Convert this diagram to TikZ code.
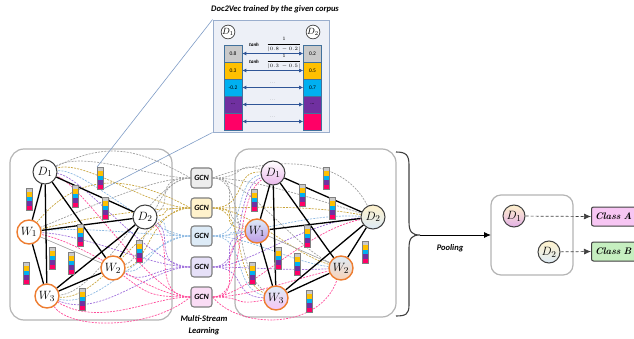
\documentclass[tikz,border=0pt]{standalone}
\usepackage{fontspec}
\newfontfamily\carlito{Carlito}
\usetikzlibrary{arrows.meta,calc}
\newcommand\celldots{...}

\definecolor{cellgray}{HTML}{C9C9C9}
\definecolor{cellyel}{HTML}{FFC000}
\definecolor{cellcyan}{HTML}{00B0F0}
\definecolor{cellpur}{HTML}{7030A0}
\definecolor{cellmag}{HTML}{FF0066}
\definecolor{cellborder}{HTML}{41719C}
\definecolor{arrowblue}{HTML}{2F5597}
\definecolor{insetfill}{HTML}{EDF0F7}
\definecolor{insetdraw}{HTML}{9AAECD}
\definecolor{boxgray}{HTML}{B4B4B4}
\definecolor{nodedark}{HTML}{404040}
\definecolor{worange}{HTML}{ED7D31}
\definecolor{gcnborder}{HTML}{7F7F7F}
\definecolor{gcnA}{HTML}{EDEDED}
\definecolor{gcnB}{HTML}{FFF2CC}
\definecolor{gcnC}{HTML}{DDEBF7}
\definecolor{gcnD}{HTML}{E6E0F8}
\definecolor{gcnE}{HTML}{FADCF5}
\definecolor{sgray}{HTML}{A0A0A0}
\definecolor{sgold}{HTML}{C8A43C}
\definecolor{sblue}{HTML}{8DB9E2}
\definecolor{spur}{HTML}{A070DC}
\definecolor{spink}{HTML}{FF4C9A}
\definecolor{classA}{HTML}{F7C6F3}
\definecolor{classB}{HTML}{C6EFC0}
\definecolor{linkblue}{HTML}{7F9CC6}

\pgfdeclarelayer{boxes}
\pgfdeclarelayer{links}
\pgfsetlayers{boxes,links,main}

\tikzset{
  gnode/.style={circle, minimum size=24pt, inner sep=0pt, font=\fontsize{13}{13}\selectfont},
  dnode/.style={gnode, draw=nodedark, line width=1pt, fill=white},
  wnode/.style={gnode, draw=worange, line width=1.4pt, fill=white},
  edge/.style={line width=1.3pt, black},
  thinedge/.style={line width=0.6pt, sgray},
  strand/.style={dash pattern=on 2pt off 1.2pt, line width=0.7pt},
  gcn/.style={draw=gcnborder, line width=1.1pt, rounded corners=3pt, minimum width=21pt,
    minimum height=20pt, inner sep=0pt, font=\carlito\bfseries\itshape\fontsize{8}{8}\selectfont},
  cell/.style={draw=cellborder, line width=0.6pt, minimum width=18pt, minimum height=17pt,
    inner sep=0pt, font=\carlito\fontsize{5.5}{5.5}\selectfont},
  graphbox/.style={draw=boxgray, line width=1.2pt, rounded corners=14pt},
  pairarrow/.style={{Latex[length=4pt,width=4pt]}-{Latex[length=4pt,width=4pt]}, arrowblue, line width=0.7pt},
  smalllabel/.style={inner sep=0pt, font=\carlito\bfseries\itshape\fontsize{5}{5}\selectfont},
  classbox/.style={draw=nodedark, line width=1pt, rounded corners=2pt, anchor=west,
    minimum height=19pt, text width=44pt, inner xsep=3.5pt, align=left,
    font=\bfseries\itshape\fontsize{9.5}{9.5}\selectfont},
  caption/.style={font=\carlito\bfseries\itshape\fontsize{8.5}{12}\selectfont, align=center},
  vecbar/.pic={
    \fill[cellgray] (0,0) rectangle (6,4.4);
    \fill[cellyel] (0,4.4) rectangle (6,8.8);
    \fill[cellcyan] (0,8.8) rectangle (6,13.2);
    \fill[cellpur] (0,13.2) rectangle (6,17.6);
    \fill[cellmag] (0,17.6) rectangle (6,22);
    \draw[gray, line width=0.4pt] (0,0) rectangle (6,22);
  }
}

\begin{document}
\begin{tikzpicture}[x=1pt, y=-1pt]
\useasboundingbox (0,0) rectangle (634,339);

% ---------- Doc2Vec inset ----------
\node[caption] (title) at (275,9) {Doc2Vec trained by the given corpus};
\node[draw=insetdraw, line width=0.9pt, fill=insetfill, minimum width=116pt, minimum height=112pt,
      inner sep=0pt] (inset) at (271,76) {};
\node[draw=nodedark, circle, fill=white, line width=0.7pt, minimum size=13pt, inner sep=0pt,
      font=\fontsize{9}{9}\selectfont] (iD1) at (228,32) {$D_1$};
\node[draw=nodedark, circle, fill=white, line width=0.7pt, minimum size=13pt, inner sep=0pt,
      font=\fontsize{9}{9}\selectfont] (iD2) at (313,32) {$D_2$};

\foreach \k/\fc/\lt/\rt [count=\i] in {1/cellgray/0.8/0.2, 2/cellyel/0.3/0.5, 3/cellcyan/-0.2/0.7,
                                      4/cellpur/\celldots/\celldots, 5/cellmag/{}/{}} {
  \node[cell, fill=\fc] (lc\k) at (233,{36.5+17*\i}) {\lt};
  \node[cell, fill=\fc] (rc\k) at (312.5,{36.5+17*\i}) {\rt};
  \draw[pairarrow] (lc\k.east) -- (rc\k.west);
}
\node[smalllabel] (tanh1) at (254,45) {tanh};
\node[inner sep=0pt, font=\fontsize{5.5}{5.5}\selectfont] (frac1) at (284,44.5)
  {$\displaystyle\frac{1}{|0.8\,-0.2|}$};
\node[smalllabel] (tanh2) at (254,62) {tanh};
\node[inner sep=0pt, font=\fontsize{5.5}{5.5}\selectfont] (frac2) at (284,61.5)
  {$\displaystyle\frac{1}{|0.3\,-0.5|}$};
\foreach \k in {3,4,5}
  \node[inner sep=0pt, gray, font=\fontsize{5}{5}\selectfont] (dots\k) at ($(lc\k.east)!0.5!(rc\k.west)+(0,-4)$) {\celldots};

% ---------- graph frames ----------
\begin{pgfonlayer}{boxes}
  \draw[graphbox] (10,149) rectangle (172,320);
  \draw[graphbox] (235,149) rectangle (396,317);
  \draw[graphbox, rounded corners=10pt] (491,195) rectangle (573,275);
\end{pgfonlayer}

% ---------- left graph nodes ----------
\node[dnode] (lD1) at (45,172) {$D_1$};
\node[dnode] (lD2) at (145,217) {$D_2$};
\node[wnode] (lW1) at (29,232) {$W_1$};
\node[wnode] (lW2) at (113,268) {$W_2$};
\node[wnode] (lW3) at (47,296) {$W_3$};

% ---------- right graph nodes ----------
\node[gnode, draw=nodedark, line width=1pt, top color=white, bottom color=classA!90!cellpur] (rD1) at (273,173) {$D_1$};
\node[gnode, draw=nodedark, line width=1pt, top color=gcnB, bottom color=gcnC] (rD2) at (373,217) {$D_2$};
\node[gnode, draw=worange, line width=1.4pt, top color=gcnC, bottom color=spur!70] (rW1) at (257,231) {$W_1$};
\node[gnode, draw=worange, line width=1.4pt, top color=gcnC, bottom color=worange!35] (rW2) at (341,268) {$W_2$};
\node[gnode, draw=worange, line width=1.4pt, top color=gcnC, bottom color=classA] (rW3) at (276,298) {$W_3$};

% ---------- GCN streams ----------
\node[gcn, fill=gcnA] (g1) at (201.5,178) {GCN};
\node[gcn, fill=gcnB] (g2) at (201.5,208) {GCN};
\node[gcn, fill=gcnC] (g3) at (201.5,236) {GCN};
\node[gcn, fill=gcnD] (g4) at (201.5,267) {GCN};
\node[gcn, fill=gcnE] (g5) at (201.5,297) {GCN};
\node[caption] (msl) at (204,325) {Multi-Stream\\Learning};

\begin{pgfonlayer}{links}
  \foreach \g/\c [count=\k] in {g1/sgray, g2/sgold, g3/sblue, g4/spur, g5/spink} {
    \foreach \n/\cx/\cy in {lD1/40/-4, lD2/30/6, lW1/60/-6, lW2/35/8, lW3/55/14}
      \draw[strand, \c] (\g.west) .. controls +(-40,0) and +(\cx,{\cy+(\k-3)*9}) .. (\n);
    \foreach \n/\cx/\cy in {rD1/-40/6, rD2/-70/-4, rW1/-45/2, rW2/-50/-6, rW3/-45/-10}
      \draw[strand, \c] (\g.east) .. controls +(35,0) and +(\cx,{\cy+(\k-3)*9}) .. (\n);
  }
  % extra arcs running round the frames
  \draw[strand, sgray] (g1.west) .. controls (140,150) and (110,140) .. (lD1);
  \draw[strand, spink] (g5.west) .. controls (150,330) and (70,330) .. (lW3);
  \draw[strand, sgold] (g2.west) .. controls (130,175) and (80,170) .. (lW1);
  \draw[strand, spink] (g5.east) .. controls (240,330) and (320,330) .. (rW2);
  \draw[strand, sgray] (g1.east) .. controls (260,160) and (340,150) .. (rD2);

  % graph edges
  \foreach \p in {l, r} {
    \draw[thinedge] (\p W1) -- (\p W2);
    \foreach \a/\b in {D1/D2, D1/W1, D1/W2, D1/W3, D2/W1, D2/W2, D2/W3, W1/W3, W2/W3}
      \draw[edge] (\p\a) -- (\p\b);
  }
\end{pgfonlayer}

% ---------- embedding bars ----------
\foreach \x/\y in {26/188, 97/167, 72/185, 102/197, 77/224, 49/247, 68/252, 23/262, 136/240, 79/288,
                   323/167, 299/184, 251/189, 329/197, 304/225, 275/247, 294/253, 362/241, 249/262, 306/290}
  \pic at (\x,\y) {vecbar};

\coordinate (barTop) at (97,167);
\coordinate (barBot) at (103,189);
\draw[linkblue, line width=0.6pt] (inset.north west) -- (barTop);
\draw[linkblue, line width=0.6pt] (inset.south west) -- (barBot);

% ---------- brace and pooling ----------
\coordinate (brTip) at (420,235);
\draw[nodedark, line width=1.1pt]
  (396,152) .. controls (406,152) and (409,155) .. (409,165) -- (409,222)
  .. controls (409,232) and (412,235) .. (brTip)
  .. controls (412,235) and (409,238) .. (409,248) -- (409,305)
  .. controls (409,314) and (406,316) .. (396,316);
\coordinate (poolIn) at (491,235);
\draw[-{Latex[length=7pt,width=6pt]}, black, line width=0.9pt] (brTip) -- (poolIn);
\node[caption] (pooling) at (450,248) {Pooling};

\node[gnode, draw=nodedark, line width=1pt, minimum size=22pt, top color=gcnB, bottom color=classA!85!cellpur]
  (pD1) at (514,216) {$D_1$};
\node[gnode, draw=nodedark, line width=1pt, minimum size=22pt, top color=gcnB, bottom color=gcnC]
  (pD2) at (549,252) {$D_2$};

\node[classbox, fill=classA] (ca) at (591,216.5) {Class A};
\node[classbox, fill=classB] (cb) at (591,251.5) {Class B};
\draw[densely dashed, line width=0.7pt, nodedark, -{Latex[length=7pt,width=6pt]}] (pD1) -- (ca.west);
\draw[densely dashed, line width=0.7pt, nodedark, -{Latex[length=7pt,width=6pt]}] (pD2) -- (cb.west);
\end{tikzpicture}
\end{document}
